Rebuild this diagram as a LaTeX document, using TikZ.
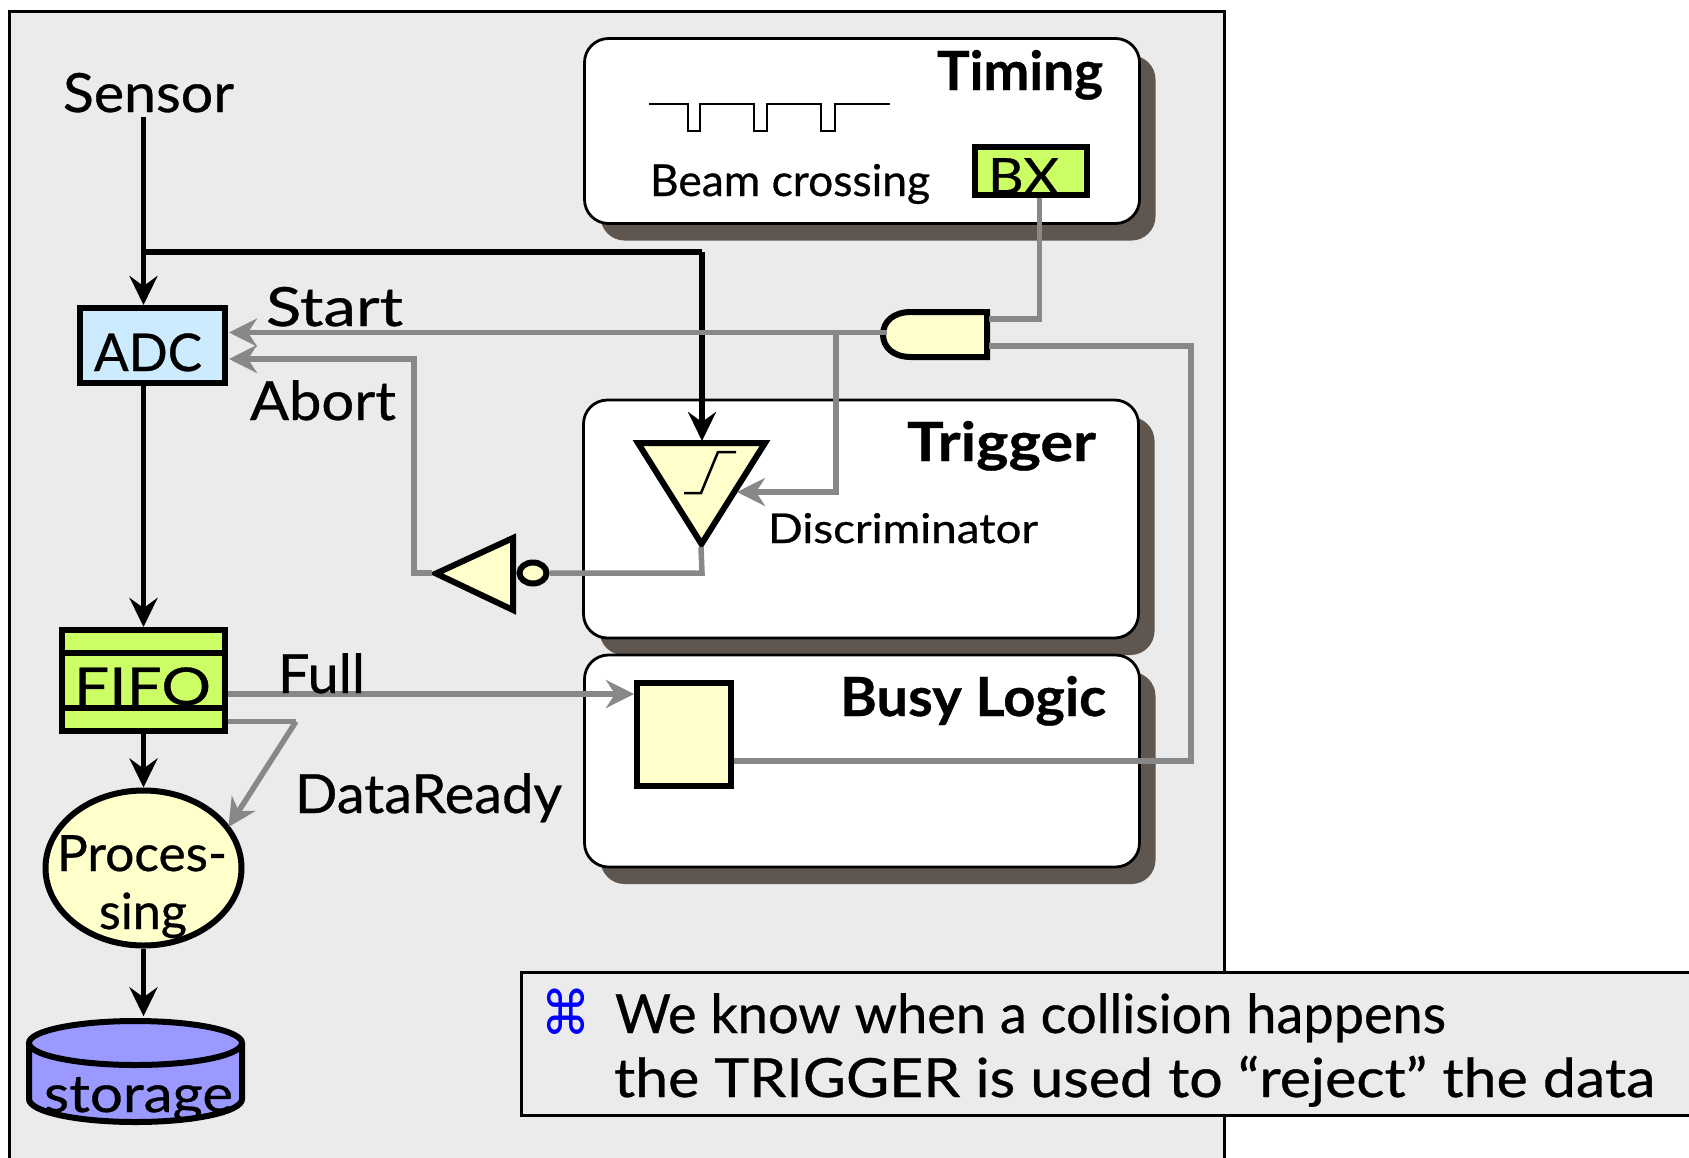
\documentclass[tikz,border=0pt]{standalone}
\usepackage{graphicx}
\usepackage{fontspec}
\setmainfont{Lato}[FakeBold=0.6]
\newfontfamily\symfont{DejaVu Sans}
\usetikzlibrary{arrows.meta,shapes.geometric,shadows}
\definecolor{panelc}{HTML}{EBEBEB}
\definecolor{shadowc}{HTML}{5F574F}
\definecolor{wirec}{HTML}{888888}
\definecolor{paley}{HTML}{FFFFCC}
\definecolor{limec}{HTML}{CCFF66}
\definecolor{skyc}{HTML}{CCEBFF}
\definecolor{storec}{HTML}{9999FF}
\newcommand{\fitted}[3]{\resizebox{#1pt}{\height}{\fontsize{#2}{#2}\selectfont #3}}
\tikzset{
  x=1pt,y=-1pt,
  lbl/.style={anchor=base west,inner sep=0pt,outer sep=0pt},
  panel/.style={draw=black,line width=2.5pt,fill=#1},
  roundbox/.style={draw=black,line width=2.8pt,fill=white,rounded corners=24pt,inner sep=0pt,
    general shadow={fill=shadowc,shadow xshift=16pt,shadow yshift=-17pt}},
  block/.style={draw=black,line width=6pt,fill=#1,inner sep=0pt},
  sig/.style={draw=black,line width=5.5pt,line join=miter,-{Stealth[length=29pt,width=28pt,inset=10pt]}},
  sigplain/.style={draw=black,line width=5.5pt,line join=miter},
  wire/.style={draw=wirec,line width=5.5pt,line join=miter},
  wirearrow/.style={wire,-{Stealth[length=28pt,width=28pt,inset=9pt]}},
  thin line/.style={draw=black,line width=2.5pt,line join=miter},
  gatefill/.style={draw=black,line width=6pt,fill=paley,line join=miter},
}
\begin{document}
\begin{tikzpicture}
\useasboundingbox (0,0) rectangle (1689,1157);
\clip (0,0) rectangle (1689,1157);
\fill[white] (0,0) rectangle (1689,1157);
% outer panel
\draw[panel=panelc] (9.5,11.5) rectangle (1224.5,1175);

% group boxes
\node[roundbox,minimum width=555pt,minimum height=185pt] (timing) at (862,131) {};
\node[roundbox,minimum width=555pt,minimum height=238pt] (trigger) at (861,519) {};
\node[roundbox,minimum width=555pt,minimum height=212pt] (busy) at (862,761) {};

% logic blocks
\node[block=skyc,minimum width=145pt,minimum height=75pt] (adc) at (152,345.5) {};
\node[block=limec,minimum width=163pt,minimum height=101pt] (fifo) at (143.5,680.5) {};
\draw[sigplain] (fifo.west |- 0,653) -- (fifo.east |- 0,653);
\draw[sigplain] (fifo.west |- 0,708) -- (fifo.east |- 0,708);
\node[block=paley,ellipse,minimum width=196pt,minimum height=155pt] (proc) at (143.5,868) {};
\node[block=limec,minimum width=112pt,minimum height=48pt] (bx) at (1031,171) {};
\node[block=paley,minimum width=94pt,minimum height=103pt] (blatch) at (684,734.5) {};

% storage cylinder
\node[inner sep=0pt,minimum width=218pt,minimum height=107pt] (storage) at (135,1070) {};
\filldraw[block=storec] (29,1043) -- (29,1099) arc[start angle=180,end angle=360,x radius=106.5,y radius=-23] -- (242,1043);
\filldraw[block=storec] (135.5,1043) ellipse[x radius=106.5,y radius=22];

% discriminator
\coordinate (discTop) at (702,441);
\coordinate (discTip) at (701,547);
\coordinate (discIn) at (737,492);
\draw[gatefill] (638,443) -- (765,443) -- (701.5,544) -- cycle;
\draw[thin line] (684,493) -- (701,493) -- (718,452) -- (736,452);

% inverter
\coordinate (invIn) at (432,573);
\draw[gatefill] (436,573.5) -- (513,538) -- (513,610) -- cycle;
\node[block=paley,ellipse,minimum width=27pt,minimum height=21pt] (bubble) at (533,573) {};

% AND gate
\node[inner sep=0pt,minimum width=108pt,minimum height=49pt] (gate) at (935,334.5) {};
\draw[gatefill] (911,312) .. controls (893,312) and (883,322) .. (883,334.5) .. controls (883,347) and (893,357) .. (911,357) -- (987,357) -- (987,312) -- cycle;
\draw[draw=paley!70!white,line width=1pt] (911,315) -- (911,354);

% beam crossing pulses
\draw[thin line] (649,104) -- (688,104) -- (688,131) -- (700,131) -- (700,104) -- (754,104) -- (754,131) -- (767,131) -- (767,104) -- (821,104) -- (821,131) -- (835,131) -- (835,104) -- (890,104);

% black signal path
\coordinate (sensorOut) at (143.5,117);
\coordinate (branch) at (143.5,252);
\draw[sig] (sensorOut) -- (sensorOut |- adc.north);
\draw[sigplain] (branch) -- (discTop |- branch);
\draw[sig] (discTop |- branch) -- (discTop);
\draw[sig] (143.5,0 |- adc.south) -- (143.5,0 |- fifo.north);
\draw[sig] (143.5,0 |- fifo.south) -- (143.5,0 |- proc.north);
\draw[sig] (143.5,0 |- proc.south) -- (143.5,0 |- storage.north);

% grey wires
\coordinate (gateIn) at (887,332.5);
\coordinate (startTip) at (229,332.5);
\coordinate (abortTip) at (229,359);
\coordinate (gateBx) at (989,319);
\coordinate (gateBusy) at (989,346);
\coordinate (dataCorner) at (296,721.5);
\coordinate (procPort) at (228.5,827);
\draw[wirearrow] (gateIn) -- (startTip);
\draw[wirearrow] (836,332.5) -- (836,492) -- (discIn);
\draw[wirearrow] (invIn) -- (414,573) -- (414,359) -- (abortTip);
\draw[wire] (bubble.east) -- (702,573) -- (discTip);
\draw[wire] (bx.south -| 1039.5,0) -- (1039.5,319) -- (gateBx);
\draw[wire] (gateBusy) -- (1191,346) -- (1191,761) -- (blatch.east |- 0,761);
\draw[wirearrow] (fifo.east |- 0,694) -- (blatch.west |- 0,694);
\draw[wire] (fifo.east |- dataCorner) -- (dataCorner);
\draw[wirearrow] (dataCorner) -- (procPort);

% callout
\node[panel=panelc,minimum width=1300pt,minimum height=143pt,inner sep=0pt,anchor=north west] (callout) at (520,971) {};

% labels
\node[lbl] (sensorT) at (63,112) {\fitted{171}{54}{Sensor}};
\node[lbl] (startT) at (266,326) {\fitted{137}{54}{Start}};
\node[lbl] (abortT) at (250,420) {\fitted{146}{54}{Abort}};
\node[lbl] (adcT) at (94,371) {\fitted{108}{52}{ADC}};
\node[lbl] (fifoT) at (74,705) {\fitted{137}{52}{FIFO}};
\node[lbl] (fullT) at (278,693) {\fitted{87}{54}{Full}};
\node[lbl] (dataT) at (295,813) {\fitted{267}{54}{DataReady}};
\node[lbl] (procT) at (57,871) {\fitted{170}{50}{Proces-}};
\node[lbl] (singT) at (99,929) {\fitted{88}{50}{sing}};
\node[lbl] (storT) at (44,1112) {\fitted{189}{52}{storage}};
\node[lbl] (timingT) at (937,90) {\fitted{166}{54}{\bfseries Timing}};
\node[lbl] (beamT) at (650,196) {\fitted{280}{44}{Beam crossing}};
\node[lbl] (bxT) at (988,194) {\fitted{71}{50}{BX}};
\node[lbl] (trigT) at (907,461) {\fitted{189}{54}{\bfseries Trigger}};
\node[lbl] (discT) at (768,543) {\fitted{270}{41}{Discriminator}};
\node[lbl] (busyT) at (840,716) {\fitted{266}{54}{\bfseries Busy Logic}};
\node[lbl,text=blue] (bulletT) at (541,1034) {\fitted{49}{60}{\symfont ⌘}};
\node[lbl] (line1T) at (615,1033) {\fitted{831}{54}{We know when a collision happens}};
\node[lbl] (line2T) at (614,1097) {\fitted{1041}{54}{the TRIGGER is used to “reject” the data}};
\end{tikzpicture}
\end{document}
